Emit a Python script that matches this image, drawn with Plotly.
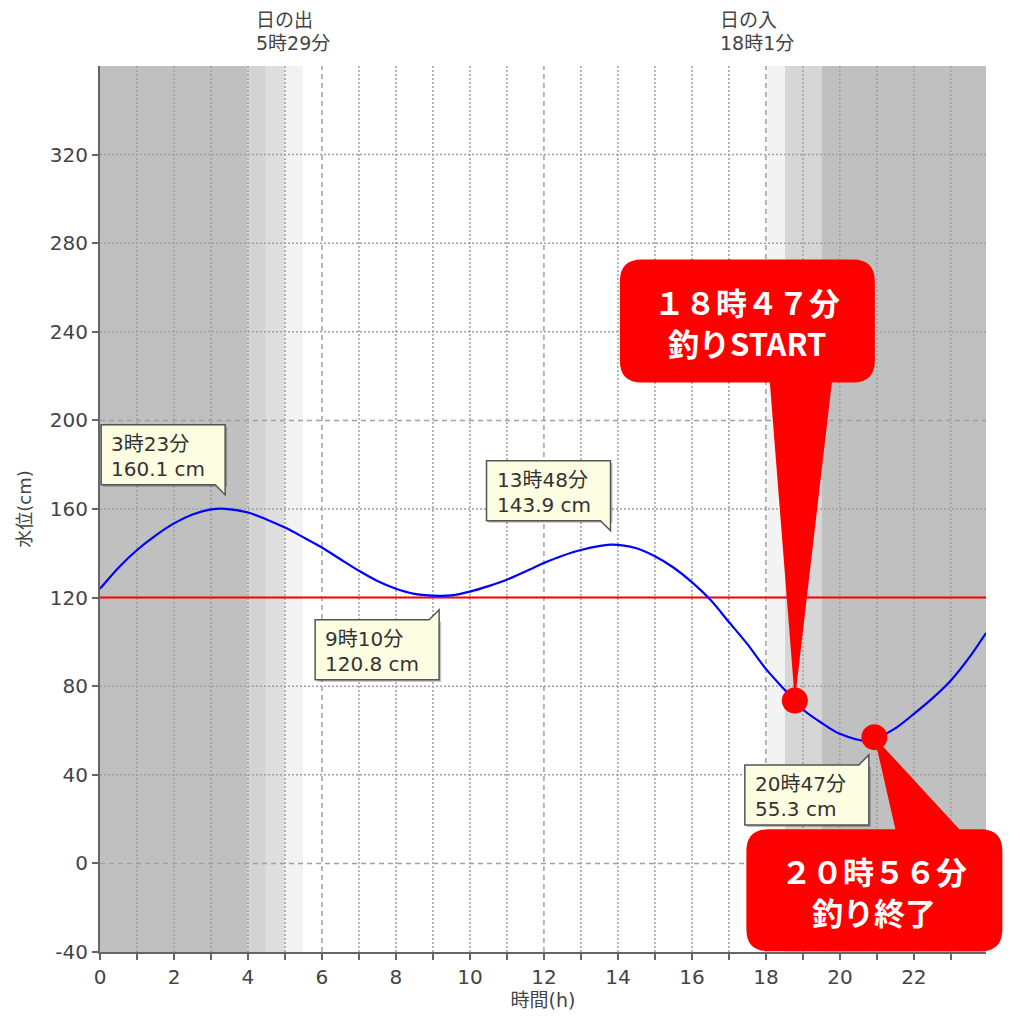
import plotly.graph_objects as go

# ---------------- data ----------------
hours = [0, 0.5, 1, 1.5, 2, 2.5, 3, 3.383, 4, 4.5, 5, 5.5, 6, 6.5, 7, 7.5, 8, 8.5,
         9.167, 9.5, 10, 10.5, 11, 11.5, 12, 12.5, 13, 13.8, 14.5, 15, 15.5, 16,
         16.5, 17, 17.5, 18, 18.5, 19, 19.5, 20, 20.783, 21.5, 22, 22.5, 23, 23.5, 23.95]
levels = [124, 133.5, 141.5, 148, 153.5, 157.5, 159.8, 160.1, 158.4, 155.3, 151.6, 147.2,
          142.6, 137.3, 132.1, 127.5, 124, 121.7, 120.8, 121.0, 122.7, 125.2, 128.1,
          131.8, 135.6, 138.9, 141.5, 143.9, 142.3, 138.7, 133.6, 127, 119, 109, 99,
          87.8, 78.5, 69.5, 63.5, 58.5, 55.3, 61, 67.5, 74.5, 82.6, 93, 104]

threshold = 120

ext_times = [3.383, 9.167, 13.8, 20.783]
ext_levels = [160.1, 120.8, 143.9, 55.3]
ext_time_labels = ["3時23分", "9時10分", "13時48分", "20時47分"]
ext_kinds = ["high", "low", "high", "low"]

sunrise = 5.483
sunset = 18.017
sun_labels = [("日の出", "5時29分"), ("日の入", "18時1分")]

fish_times = [18.783, 20.933]
fish_levels = [73.5, 57]
fish_line1 = ["１８時４７分", "２０時５６分"]
fish_line2 = ["釣りSTART", "釣り終了"]

x_ticks = list(range(0, 24))
x_ticktext = [str(h) if h % 2 == 0 else "" for h in x_ticks]
y_ticks = list(range(-40, 321, 40))
y_ticktext = [str(v) for v in y_ticks]

# ---------------- layout helpers ----------------
XR = [0, 23.95]
YR = [-40, 360]
LBL_FONT = "DejaVu Sans, Noto Sans CJK JP, sans-serif"
CJK_BOLD = "Noto Sans CJK JP, sans-serif"


def xp(t):
    return (t - XR[0]) / (XR[1] - XR[0])


def yp(v):
    return (v - YR[0]) / (YR[1] - YR[0])


fig = go.Figure()

shapes = []
# day/night bands
bands = [
    (XR[0], sunrise - 1.5, "#c0c0c0"),
    (sunrise - 1.5, sunrise - 1.0, "#d3d3d3"),
    (sunrise - 1.0, sunrise - 0.5, "#dedede"),
    (sunrise - 0.5, sunrise, "#f2f2f2"),
    (sunset, sunset + 0.5, "#f3f3f3"),
    (sunset + 0.5, sunset + 1.5, "#d6d6d6"),
    (sunset + 1.5, XR[1], "#c0c0c0"),
]
for a, b, c in bands:
    shapes.append(dict(type="rect", xref="x", yref="paper", x0=a, x1=b, y0=0, y1=1,
                       fillcolor=c, line_width=0, layer="below"))

# grid lines
for h in x_ticks[1:]:
    dash = "5px,4px" if h % 6 == 0 else "2px,2px"
    shapes.append(dict(type="line", xref="x", yref="paper", x0=h, x1=h, y0=0, y1=1,
                       line=dict(color="#a0a0a0", width=1.5, dash=dash), layer="between"))
for v in y_ticks[1:]:
    dash = "5px,4px" if v % 200 == 0 else "2px,2px"
    shapes.append(dict(type="line", xref="paper", yref="y", x0=0, x1=1, y0=v, y1=v,
                       line=dict(color="#a0a0a0", width=1.5, dash=dash), layer="between"))

# threshold line
shapes.append(dict(type="line", xref="paper", yref="y", x0=0, x1=1, y0=threshold, y1=threshold,
                   line=dict(color="#ff0000", width=2), layer="between"))

annotations = []

# extreme-value callouts
BW, BH, TAIL, GAP = 124, 60, 10, 14
for t, v, lab, kind in zip(ext_times, ext_levels, ext_time_labels, ext_kinds):
    s = 1 if kind == "high" else -1
    b0 = s * (GAP + TAIL)
    b1 = s * (GAP + TAIL + BH)
    tip = s * GAP
    path = (f"M {-BW},{b0} L {-TAIL},{b0} L 0,{tip} L 0,{b1} L {-BW},{b1} Z")
    shadow = (f"M {-BW + 2},{b0 - 2} L 2,{b0 - 2} L 2,{b1 - 2} L {-BW + 2},{b1 - 2} Z")
    shapes.append(dict(type="path", xref="x", yref="y", xsizemode="pixel", ysizemode="pixel",
                       xanchor=t, yanchor=v, path=shadow, fillcolor="rgba(0,0,0,0.25)",
                       line_width=0, layer="above"))
    shapes.append(dict(type="path", xref="x", yref="y", xsizemode="pixel", ysizemode="pixel",
                       xanchor=t, yanchor=v, path=path, fillcolor="#fdfde1",
                       line=dict(color="#555555", width=1.5), layer="above"))
    top = max(b0, b1)
    for k, txt in enumerate([lab, f"{v:.1f} cm"]):
        annotations.append(dict(x=t, y=v, xref="x", yref="y", text=txt, showarrow=False,
                                xanchor="left", yanchor="middle", xshift=-BW + 8,
                                yshift=top - 19 - 25 * k,
                                font=dict(family=LBL_FONT, size=20, color="#333333")))

# fishing callouts (red, rounded)
def rounded_callout(L, R, B, T, r, tail_side, tl, tr):
    # coordinates in pixels, y positive upward, tip at (0,0)
    if tail_side == "bottom":
        return (f"M {L + r},{B} L {tl},{B} L 0,0 L {tr},{B} L {R - r},{B} Q {R},{B} {R},{B + r} "
                f"L {R},{T - r} Q {R},{T} {R - r},{T} L {L + r},{T} Q {L},{T} {L},{T - r} "
                f"L {L},{B + r} Q {L},{B} {L + r},{B} Z")
    return (f"M {L + r},{T} L {tl},{T} L 0,0 L {tr},{T} L {R - r},{T} Q {R},{T} {R},{T - r} "
            f"L {R},{B + r} Q {R},{B} {R - r},{B} L {L + r},{B} Q {L},{B} {L},{B + r} "
            f"L {L},{T - r} Q {L},{T} {L + r},{T} Z")


fish_boxes = [
    dict(L=-175, R=80, B=318, T=441, tail="bottom", tl=-25, tr=37),
    dict(L=-128, R=128, B=-214, T=-92, tail="top", tl=21, tr=85),
]
for t, v, l1, l2, bx in zip(fish_times, fish_levels, fish_line1, fish_line2, fish_boxes):
    path = rounded_callout(bx["L"], bx["R"], bx["B"], bx["T"], 22, bx["tail"], bx["tl"], bx["tr"])
    shapes.append(dict(type="path", xref="paper", yref="paper", xsizemode="pixel",
                       ysizemode="pixel", xanchor=xp(t), yanchor=yp(v), path=path,
                       fillcolor="#ff0000", line_width=0, layer="above"))
    cx = (bx["L"] + bx["R"]) / 2
    cy = (bx["B"] + bx["T"]) / 2
    for k, txt in enumerate([l1, l2]):
        annotations.append(dict(x=xp(t), y=yp(v), xref="paper", yref="paper", text=f"<b>{txt}</b>",
                                showarrow=False, xanchor="center", yanchor="middle",
                                xshift=cx, yshift=cy + 20 - 41 * k,
                                font=dict(family=CJK_BOLD, size=31, color="white")))

# sunrise / sunset labels (two lines each, left aligned block)
for t, (l1, l2) in zip([sunrise, sunset], sun_labels):
    for k, txt in enumerate([l1, l2]):
        annotations.append(dict(x=t, y=1, xref="x", yref="paper", text=txt, showarrow=False,
                                xanchor="left", yanchor="middle", xshift=-48,
                                yshift=46 - 23 * k, borderpad=0,
                                font=dict(family=LBL_FONT, size=19, color="#444444")))

# traces
fig.add_trace(go.Scatter(x=hours, y=levels, mode="lines", line=dict(color="#0000ff", width=2.2,
                         shape="spline", smoothing=0.8), hoverinfo="skip", showlegend=False))
fig.add_trace(go.Scatter(x=fish_times, y=fish_levels, mode="markers",
                         marker=dict(color="#ff0000", size=26), showlegend=False, cliponaxis=False))

fig.update_layout(
    width=1020, height=1020,
    margin=dict(l=92, r=42, t=58, b=76),
    paper_bgcolor="white", plot_bgcolor="white",
    shapes=shapes, annotations=annotations,
    showlegend=False,
    font=dict(family=LBL_FONT, color="#444444"),
)
fig.update_xaxes(range=XR, tickvals=x_ticks, ticktext=x_ticktext, showgrid=False, zeroline=False,
                 showline=True, linecolor="#666666", linewidth=2, ticks="outside", ticklen=6,
                 tickwidth=2, tickcolor="#666666", tickfont=dict(size=20, color="#444444"),
                 title=dict(text="時間(h)", font=dict(size=19, color="#444444"), standoff=4))
fig.update_yaxes(range=YR, tickvals=y_ticks, ticktext=y_ticktext, showgrid=False, zeroline=False,
                 showline=True, linecolor="#666666", linewidth=2, ticks="outside", ticklen=6,
                 tickwidth=2, tickcolor="#666666", tickfont=dict(size=20, color="#444444"),
                 title=dict(text="水位(cm)", font=dict(size=18, color="#444444"), standoff=14))

fig.write_html("out.html")
